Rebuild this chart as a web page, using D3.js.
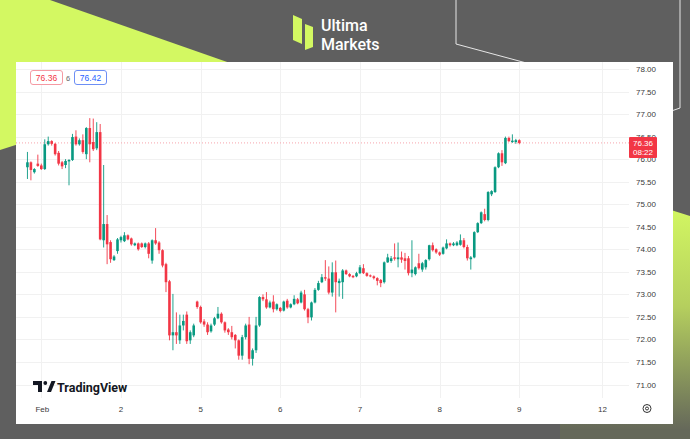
<!DOCTYPE html>
<html><head><meta charset="utf-8">
<script src="https://cdn.jsdelivr.net/npm/d3@7"></script>
<style>body{margin:0;background:#5f5f5f;overflow:hidden}svg{display:block}</style>
</head><body>
<svg id="c" width="690" height="439"></svg>
<script>
// Hourly candles, index 0 = last hours of Jan 31
const opens=[75.82,75.93,75.71,75.90,75.86,75.78,76.33,76.40,76.34,76.14,
75.93,75.87,75.95,75.98,76.50,76.33,76.42,76.11,76.69,76.38,
76.24,76.60,74.20,74.56,74.16,73.76,73.96,74.20,74.18,74.31,
74.24,74.09,74.13,74.13,74.05,74.13,73.75,74.20,74.15,73.98,
73.67,73.29,72.09,72.16,71.98,72.31,72.55,71.98,72.09,72.84,
72.72,72.40,72.33,72.18,72.33,72.47,72.57,72.38,72.22,72.16,
72.10,71.98,71.64,72.05,72.33,71.57,71.76,72.31,72.94,72.89,
72.71,72.84,72.67,72.70,72.64,72.86,72.71,72.78,72.89,72.82,
73.00,72.67,72.49,72.82,73.10,73.27,73.38,73.35,73.04,73.49,
73.25,73.27,73.53,73.45,73.41,73.40,73.47,73.58,73.47,73.42,
73.40,73.36,73.32,73.27,73.71,73.74,73.82,73.78,73.82,73.80,
73.80,73.47,73.45,73.69,73.55,73.60,73.78,74.09,74.00,73.93,
73.90,74.02,74.13,74.09,74.09,74.10,74.20,74.05,73.78,73.82,
74.38,74.58,74.78,74.65,75.22,75.27,75.82,76.13,75.91,76.47,
76.38,76.38,76.42];
const highs=[76.16,75.95,75.80,76.10,75.90,76.44,76.50,76.42,76.36,76.18,
75.96,76.00,76.00,76.56,76.64,76.46,76.55,76.71,76.91,76.90,
76.82,76.78,75.87,74.76,74.20,73.87,74.25,74.30,74.38,74.33,
74.26,74.15,74.15,74.15,74.15,74.16,74.22,74.47,74.18,74.00,
73.70,73.32,73.01,72.60,72.55,72.55,72.62,72.20,72.35,72.86,
72.75,72.45,72.38,72.35,72.50,72.72,72.60,72.40,72.25,72.30,
72.12,72.00,72.10,72.35,72.50,71.80,72.50,72.96,73.00,73.05,
72.86,72.98,72.80,72.72,72.86,72.90,72.80,72.98,72.92,73.08,
73.10,72.70,72.84,73.14,73.30,73.45,73.76,73.62,73.71,73.75,
73.35,73.56,73.55,73.47,73.43,73.50,73.65,73.67,73.49,73.44,
73.42,73.38,73.34,73.73,73.90,73.85,74.13,74.15,73.95,73.92,
73.85,74.20,73.62,73.90,73.72,73.78,74.10,74.15,74.02,73.95,
74.06,74.22,74.15,74.16,74.18,74.33,74.25,74.10,73.85,74.40,
74.60,74.84,74.90,75.29,75.31,75.84,76.15,76.20,76.50,76.50,
76.55,76.45,76.44];
const lows=[75.56,75.53,75.68,75.83,75.76,75.76,76.30,76.30,76.08,75.86,
75.78,75.80,75.42,75.96,76.30,76.30,76.12,76.00,75.93,76.18,
76.20,74.20,74.04,73.67,73.70,73.74,73.90,74.15,74.16,74.20,
74.08,74.07,73.97,74.03,74.02,73.80,73.68,74.10,73.90,73.60,
73.05,71.98,71.76,71.90,71.90,72.20,71.90,71.90,72.05,72.68,
72.35,72.28,72.10,72.15,72.30,72.45,72.35,72.15,72.10,72.00,
71.80,71.55,71.55,72.00,71.45,71.42,71.70,72.28,72.85,72.68,
72.69,72.60,72.64,72.60,72.62,72.68,72.69,72.76,72.78,72.80,
72.64,72.36,72.42,72.80,73.08,73.25,73.30,73.00,72.95,72.60,
72.95,72.90,73.43,73.38,73.36,73.38,73.45,73.45,73.39,73.38,
73.33,73.20,73.16,73.24,73.70,73.70,73.75,73.60,73.70,73.55,
73.42,73.38,73.42,73.55,73.50,73.55,73.75,73.95,73.90,73.85,
73.88,74.00,74.06,74.07,74.07,74.08,74.02,73.75,73.55,73.80,
74.36,74.56,74.62,74.62,75.18,75.25,75.80,75.85,75.89,76.38,
76.36,76.34,76.33];
const closes=[75.93,75.76,75.78,75.85,75.78,76.33,76.40,76.34,76.11,75.90,
75.84,75.96,75.98,76.49,76.33,76.42,76.16,76.69,76.33,76.22,
76.60,74.22,74.56,74.11,73.78,73.84,74.22,74.27,74.31,74.22,
74.11,74.13,74.00,74.05,74.13,73.90,74.20,74.13,73.98,73.64,
73.27,72.09,72.16,72.09,72.31,72.41,71.96,72.16,72.31,72.72,
72.38,72.33,72.16,72.31,72.47,72.57,72.38,72.20,72.16,72.05,
71.98,71.64,72.05,72.31,71.57,71.76,72.31,72.94,72.89,72.71,
72.82,72.67,72.78,72.63,72.84,72.71,72.78,72.90,72.80,73.04,
72.67,72.49,72.82,73.10,73.25,73.38,73.35,73.04,73.49,73.27,
73.30,73.53,73.45,73.40,73.38,73.47,73.60,73.47,73.41,73.40,
73.36,73.30,73.25,73.71,73.82,73.80,73.79,73.82,73.77,73.74,
73.47,73.55,73.60,73.58,73.69,73.76,74.09,73.98,73.93,73.88,
74.04,74.13,74.09,74.13,74.15,74.20,74.05,73.80,73.82,74.38,
74.58,74.82,74.65,75.27,75.29,75.82,76.13,75.93,76.47,76.40,
76.41,76.42,76.36];
const dayTickIndex=[4,27,50,73,96,119,142,166];
const dayTickLabels=["Feb","2","5","6","7","8","9","12"];
const priceTicks=[71,71.5,72,72.5,73,73.5,74,74.5,75,75.5,76,76.5,77,77.5,78];
const lastPrice=76.36, countdown="08:22";
const bidPrice="76.36", askPrice="76.42", spreadLabel="6";

const svg=d3.select("#c");
// background decorations
const defs=svg.append("defs");
const g=defs.append("linearGradient").attr("id","gr").attr("gradientUnits","userSpaceOnUse")
  .attr("x1",0).attr("y1",205).attr("x2",0).attr("y2",430);
g.append("stop").attr("offset",0).attr("stop-color","#d3f862");
g.append("stop").attr("offset",0.45).attr("stop-color","#b5cf5e");
g.append("stop").attr("offset",1).attr("stop-color","#65685a");
svg.append("rect").attr("width",690).attr("height",439).attr("fill","#5f5f5f");
svg.append("polygon").attr("points","0,0 50,0 250,70 0,150").attr("fill","#d3f862");
svg.append("polygon").attr("points","560,175 690,216 690,439 560,439").attr("fill","url(#gr)");
svg.append("polyline").attr("points","456,0 456,44 545,68").attr("fill","none").attr("stroke","#e6e6e6").attr("stroke-width",1);
svg.append("polyline").attr("points","680,0 680,108 660,115").attr("fill","none").attr("stroke","#e6e6e6").attr("stroke-width",1);

// logo
const logo=svg.append("g");
logo.append("path").attr("d","M293,15 L302,19 L302,44 L293,40 Z").attr("fill","#d3f862");
logo.append("path").attr("d","M305,24 L313,27 L313,47 L305,50 Z").attr("fill","#d3f862");
logo.append("text").attr("x",321).attr("y",30.5).text("Ultima").attr("fill","#fff")
  .attr("font-family","Roboto").attr("font-size",16).attr("font-weight",500);
logo.append("text").attr("x",321).attr("y",49.5).text("Markets").attr("fill","#fff")
  .attr("font-family","Roboto").attr("font-size",16).attr("font-weight",500);

// panel
svg.append("rect").attr("x",16).attr("y",62).attr("width",657).attr("height",362).attr("fill","#fff");

const plotL=16, plotR=629, plotT=62, plotB=398;
const x=d3.scaleLinear().domain([4,142]).range([41.3,519.3]);
const y=d3.scaleLinear().domain([71,78]).range([384.5,69]);

const grid=svg.append("g");
grid.selectAll("line.h").data(priceTicks).join("line").attr("class","h")
  .attr("x1",plotL).attr("x2",plotR).attr("y1",d=>Math.round(y(d))+0.5).attr("y2",d=>Math.round(y(d))+0.5)
  .attr("stroke","#f1f1f1");
grid.selectAll("line.v").data(dayTickIndex).join("line").attr("class","v")
  .attr("y1",plotT).attr("y2",plotB).attr("x1",d=>Math.round(x(d))+0.5).attr("x2",d=>Math.round(x(d))+0.5)
  .attr("stroke","#f1f1f1");

// last price line
svg.append("line").attr("x1",plotL).attr("x2",plotR).attr("y1",y(lastPrice)).attr("y2",y(lastPrice))
  .attr("stroke","#f7a5ad").attr("stroke-dasharray","1,2").attr("stroke-width",1);

// candles
const idx=d3.range(closes.length);
const up="#089981", dn="#f23645";
const cg=svg.append("g");
cg.selectAll("line").data(idx).join("line")
  .attr("x1",i=>x(i)).attr("x2",i=>x(i)).attr("y1",i=>y(highs[i])).attr("y2",i=>y(lows[i]))
  .attr("stroke",i=>closes[i]>=opens[i]?up:dn).attr("stroke-width",0.9);
cg.selectAll("rect").data(idx).join("rect")
  .attr("x",i=>x(i)-1.3).attr("width",2.6)
  .attr("y",i=>y(Math.max(opens[i],closes[i])))
  .attr("height",i=>Math.max(1,Math.abs(y(opens[i])-y(closes[i]))))
  .attr("fill",i=>closes[i]>=opens[i]?up:dn);

// right axis
const ax=svg.append("g").attr("font-family","Liberation Sans, Arial").attr("font-size",8).attr("fill","#3a3a3a");
ax.selectAll("text").data(priceTicks).join("text").attr("x",636).attr("y",d=>y(d)+3).text(d=>d.toFixed(2));
// bottom axis
const bx=svg.append("g").attr("font-family","Liberation Sans, Arial").attr("font-size",8).attr("fill","#3a3a3a").attr("text-anchor","middle");
bx.selectAll("text").data(dayTickIndex).join("text").attr("x",(d,i)=>x(d)+(i===0?1:0)).attr("y",412).text((d,i)=>dayTickLabels[i]);
// settings icon
svg.append("circle").attr("cx",647).attr("cy",408.5).attr("r",4).attr("fill","none").attr("stroke","#333").attr("stroke-width",1);
svg.append("circle").attr("cx",647).attr("cy",408.5).attr("r",1.5).attr("fill","none").attr("stroke","#333").attr("stroke-width",1);

// last price label
const py=y(lastPrice);
svg.append("rect").attr("x",629).attr("y",py-6).attr("width",28).attr("height",21).attr("rx",1).attr("fill","#f23645");
svg.append("text").attr("x",643).attr("y",py+3).attr("text-anchor","middle").attr("fill","#fff")
  .attr("font-family","Liberation Sans, Arial").attr("font-size",8).text(lastPrice.toFixed(2));
svg.append("text").attr("x",643).attr("y",py+12.5).attr("text-anchor","middle").attr("fill","#fff")
  .attr("font-family","Liberation Sans, Arial").attr("font-size",8).text(countdown);

// bid/ask boxes
const ba=svg.append("g").attr("font-family","Liberation Sans, Arial").attr("font-size",8.5);
ba.append("rect").attr("x",30.5).attr("y",70.5).attr("width",32).attr("height",14).attr("rx",2.5).attr("fill","#fff").attr("stroke","#f59aa3");
ba.append("text").attr("x",46.5).attr("y",80.7).attr("text-anchor","middle").attr("fill","#f23645").text(bidPrice);
ba.append("text").attr("x",68).attr("y",80.5).attr("text-anchor","middle").attr("fill","#666").attr("font-size",7.5).text(spreadLabel);
ba.append("rect").attr("x",74.5).attr("y",70.5).attr("width",32).attr("height",14).attr("rx",2.5).attr("fill","#fff").attr("stroke","#6d8ff5");
ba.append("text").attr("x",90.5).attr("y",80.7).attr("text-anchor","middle").attr("fill","#2962ff").text(askPrice);

// TradingView logo
const tv=svg.append("g").attr("fill","#131722");
tv.append("path").attr("d","M33,381 H42 V392 H38 V385 H33 Z");
tv.append("circle").attr("cx",45.3).attr("cy",383).attr("r",1.9);
tv.append("path").attr("d","M47,392 L51.5,381 H55.5 L51,392 Z");
tv.append("text").attr("x",57).attr("y",392).attr("font-family","Roboto").attr("font-weight",700)
  .attr("font-size",12.5).text("TradingView");
</script>
</body></html>
